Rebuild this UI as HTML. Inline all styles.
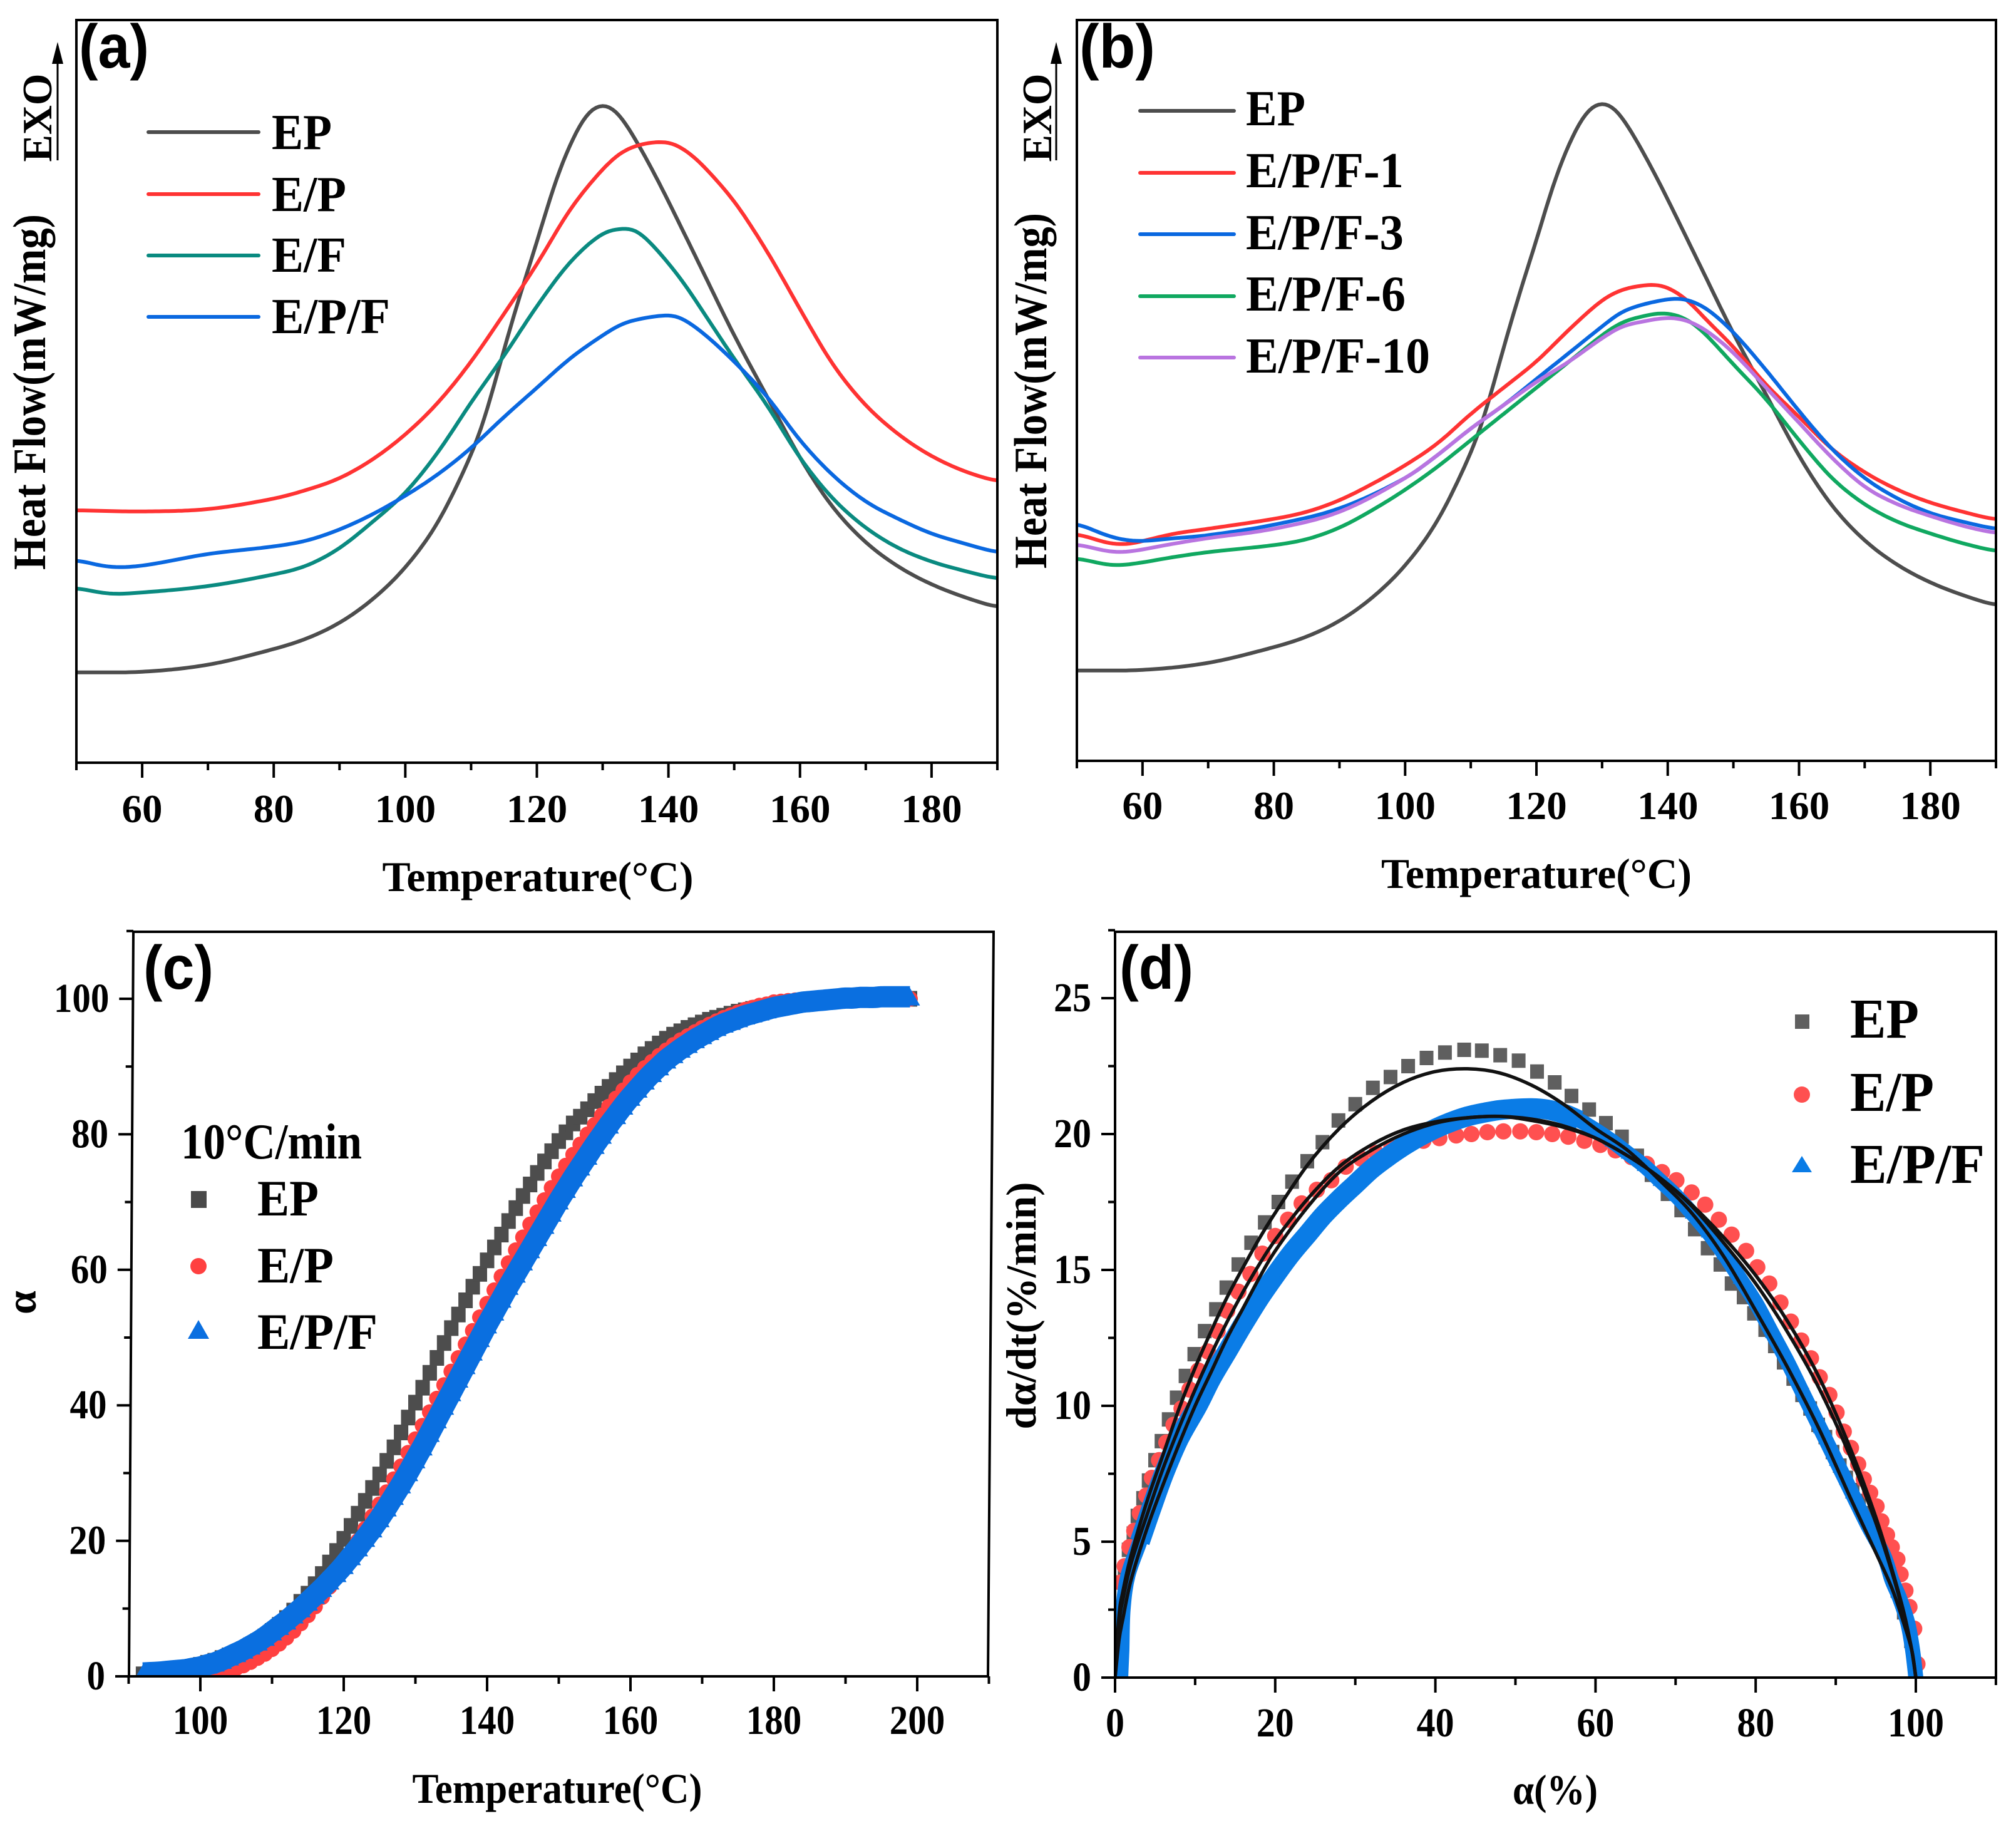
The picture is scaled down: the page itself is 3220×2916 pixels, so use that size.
<!DOCTYPE html>
<html lang="en">
<head>
<meta charset="utf-8">
<title>Curing behaviour of EP composites</title>
<style>
html,body{margin:0;padding:0;background:#fff;}
svg{display:block;}
text{font-family:"Liberation Serif",serif;font-weight:bold;fill:#000;}
.pl{font-family:"Liberation Sans",sans-serif;font-weight:bold;font-size:98px;}
.title{font-size:68px;}
.ytitle{font-size:74px;}
.leg-a{font-size:80px;}
.leg-c{font-size:82px;}
.leg-d{font-size:90px;}
</style>
</head>
<body>
<svg id="fig" xmlns="http://www.w3.org/2000/svg" width="3220" height="2916" viewBox="0 0 3220 2916">
<defs>
<clipPath id="clip-a"><rect x="122" y="32" width="1471" height="1186"/></clipPath>
<clipPath id="clip-b"><rect x="1720" y="32" width="1468" height="1183"/></clipPath>
<clipPath id="clip-c"><rect x="150" y="1400" width="1500" height="1277"/></clipPath>
<clipPath id="clip-d"><rect x="1781" y="1400" width="1407" height="1279"/></clipPath>
</defs>
<rect x="0" y="0" width="3220" height="2916" fill="#fff"/>

<g id="panel-a">
<g id="a-series" clip-path="url(#clip-a)"></g>
<rect x="122" y="32" width="1471" height="1186" fill="none" stroke="#000" stroke-width="4"/>
<g id="a-ticks"></g>
<text class="pl" x="126" y="108" textLength="112" lengthAdjust="spacingAndGlyphs">(a)</text>
<text class="title" x="859" y="1423" text-anchor="middle" textLength="497" lengthAdjust="spacingAndGlyphs">Temperature(°C)</text>
<text class="ytitle" transform="rotate(-90 72 626)" x="72" y="626" text-anchor="middle" textLength="568" lengthAdjust="spacingAndGlyphs">Heat Flow(mW/mg)</text>
<text class="ytitle" transform="rotate(-90 82 188)" x="82" y="188" text-anchor="middle" textLength="141" lengthAdjust="spacingAndGlyphs" style="font-size:67px">EXO</text>
<line x1="92" y1="256" x2="92" y2="100" stroke="#000" stroke-width="3"/>
<polygon points="92,67 83,102 101,102" fill="#000"/>
<g>
<line x1="237" y1="211" x2="413" y2="211" stroke="#4d4d4d" stroke-width="6" stroke-linecap="round"/>
<text class="leg-a" x="434" y="238" textLength="96" lengthAdjust="spacingAndGlyphs">EP</text>
<line x1="237" y1="310" x2="413" y2="310" stroke="#ff3333" stroke-width="6" stroke-linecap="round"/>
<text class="leg-a" x="434" y="337" textLength="119" lengthAdjust="spacingAndGlyphs">E/P</text>
<line x1="237" y1="408" x2="413" y2="408" stroke="#0a8a80" stroke-width="6" stroke-linecap="round"/>
<text class="leg-a" x="434" y="434" textLength="119" lengthAdjust="spacingAndGlyphs">E/F</text>
<line x1="237" y1="506" x2="413" y2="506" stroke="#0a68e0" stroke-width="6" stroke-linecap="round"/>
<text class="leg-a" x="434" y="532" textLength="189" lengthAdjust="spacingAndGlyphs">E/P/F</text>
</g>
</g>

<g id="panel-b">
<g id="b-series" clip-path="url(#clip-b)"></g>
<rect x="1720" y="32" width="1468" height="1183" fill="none" stroke="#000" stroke-width="4"/>
<g id="b-ticks"></g>
<text class="pl" x="1724" y="108" textLength="121" lengthAdjust="spacingAndGlyphs">(b)</text>
<text class="title" x="2454" y="1418" text-anchor="middle" textLength="496" lengthAdjust="spacingAndGlyphs">Temperature(°C)</text>
<text class="ytitle" transform="rotate(-90 1671 624)" x="1671" y="624" text-anchor="middle" textLength="568" lengthAdjust="spacingAndGlyphs">Heat Flow(mW/mg)</text>
<text class="ytitle" transform="rotate(-90 1679 188)" x="1679" y="188" text-anchor="middle" textLength="141" lengthAdjust="spacingAndGlyphs" style="font-size:67px">EXO</text>
<line x1="1687" y1="256" x2="1687" y2="100" stroke="#000" stroke-width="3"/>
<polygon points="1687,67 1678,102 1696,102" fill="#000"/>
<g>
<line x1="1821" y1="177" x2="1971" y2="177" stroke="#4d4d4d" stroke-width="6" stroke-linecap="round"/>
<text class="leg-a" x="1990" y="200" textLength="95" lengthAdjust="spacingAndGlyphs">EP</text>
<line x1="1821" y1="276" x2="1971" y2="276" stroke="#ff3333" stroke-width="6" stroke-linecap="round"/>
<text class="leg-a" x="1990" y="299" textLength="252" lengthAdjust="spacingAndGlyphs">E/P/F-1</text>
<line x1="1821" y1="374" x2="1971" y2="374" stroke="#0a68e0" stroke-width="6" stroke-linecap="round"/>
<text class="leg-a" x="1990" y="398" textLength="252" lengthAdjust="spacingAndGlyphs">E/P/F-3</text>
<line x1="1821" y1="473" x2="1971" y2="473" stroke="#10a860" stroke-width="6" stroke-linecap="round"/>
<text class="leg-a" x="1990" y="496" textLength="255" lengthAdjust="spacingAndGlyphs">E/P/F-6</text>
<line x1="1821" y1="571" x2="1971" y2="571" stroke="#b974e0" stroke-width="6" stroke-linecap="round"/>
<text class="leg-a" x="1990" y="595" textLength="294" lengthAdjust="spacingAndGlyphs">E/P/F-10</text>
</g>
</g>

<g id="panel-c">
<g id="c-series" clip-path="url(#clip-c)"></g>
<polygon points="213,1488 1587,1488 1578,2677 206,2677" fill="none" stroke="#000" stroke-width="4"/>
<g id="c-ticks"></g>
<text class="pl" x="229" y="1579" textLength="112" lengthAdjust="spacingAndGlyphs">(c)</text>
<text class="title" x="890" y="2879" text-anchor="middle" textLength="463" lengthAdjust="spacingAndGlyphs">Temperature(°C)</text>
<text class="title" transform="rotate(-90 57 2080)" x="57" y="2080" text-anchor="middle">α</text>
<text x="289" y="1850" font-size="80" textLength="289" lengthAdjust="spacingAndGlyphs">10°C/min</text>
<g>
<rect x="305" y="1902" width="25" height="27" fill="#4a4a4a"/>
<text class="leg-c" x="411" y="1941" textLength="98" lengthAdjust="spacingAndGlyphs">EP</text>
<circle cx="317" cy="2022" r="13" fill="#ff4040"/>
<text class="leg-c" x="411" y="2048" textLength="122" lengthAdjust="spacingAndGlyphs">E/P</text>
<polygon points="317,2108 334,2138 300,2138" fill="#0a6fe0"/>
<text class="leg-c" x="411" y="2154" textLength="192" lengthAdjust="spacingAndGlyphs">E/P/F</text>
</g>
</g>

<g id="panel-d">
<g id="d-series" clip-path="url(#clip-d)"></g>
<rect x="1781" y="1488" width="1407" height="1191" fill="none" stroke="#000" stroke-width="4"/>
<g id="d-ticks"></g>
<text class="pl" x="1788" y="1579" textLength="118" lengthAdjust="spacingAndGlyphs">(d)</text>
<text class="title" x="2484" y="2881" text-anchor="middle" textLength="136" lengthAdjust="spacingAndGlyphs">α(%)</text>
<text class="title" transform="rotate(-90 1654 2085)" x="1654" y="2085" text-anchor="middle" textLength="395" lengthAdjust="spacingAndGlyphs">dα/dt(%/min)</text>
<g>
<rect x="2867" y="1620" width="23" height="23" fill="#5f5f5f"/>
<text class="leg-d" x="2955" y="1657" textLength="110" lengthAdjust="spacingAndGlyphs">EP</text>
<circle cx="2878" cy="1748" r="13" fill="#ff5050"/>
<text class="leg-d" x="2955" y="1774" textLength="134" lengthAdjust="spacingAndGlyphs">E/P</text>
<polygon points="2878,1846 2894,1872 2862,1872" fill="#0a7ce6"/>
<text class="leg-d" x="2955" y="1889" textLength="215" lengthAdjust="spacingAndGlyphs">E/P/F</text>
</g>
</g>
</svg>

<script>
// ---------- Panel (a) data: temperature (C) and heat-flow signal (arbitrary units) ----------
const aTempEP = [50,60,70,80,85,90,95,100,105,110,112,114,116,117.6,120,123,126,128,130.2,132.3,135.3,138.2,140,145,150,155,160,165,170,175,180,185,190];
const aFlowEP = [155,156,168,195,213,240,280,335,413,528,588,668,748,808,893,1003,1083,1118,1129,1115,1063,1003,963,848,733,628,523,438,378,336,306,284,266];
const aTempEPo = [50,60,70,80,85,90,95,100,105,110,115,120,125,130,133,136,139,141,144,147,150,153,156,160,165,170,175,180,185,190];
const aFlowEPo = [433,431,435,453,468,488,520,563,618,688,770,855,948,1018,1048,1061,1065,1061,1038,1003,963,913,858,778,683,613,563,526,500,482];
const aTempEF = [50,55,60,70,80,85,90,95,100,105,110,115,120,125,130,133,135,138,142,145,150,155,160,165,170,175,180,185,190];
const aFlowEF = [300,290,292,303,323,338,368,413,463,533,618,698,783,858,908,916,914,883,828,778,693,613,523,453,403,368,345,329,315];
const aTempEPF = [50,55,60,70,80,85,90,95,100,105,110,115,120,125,130,133,136,139,141,143,146,150,155,160,165,170,175,180,185,190];
const aFlowEPF = [348,336,338,358,371,381,400,426,458,495,540,593,643,693,733,753,762,767,767,756,730,688,628,553,493,448,418,393,376,360];

// ---------- Panel (b) data ----------
const bTempEP = [50,60,70,80,85,90,95,100,105,110,112,114,116,117.6,120,123,126,128,130.2,132.3,135.3,138.2,140,145,150,155,160,165,170,175,180,185,190];
const bFlowEP = [155,156,168,195,213,240,280,335,413,528,588,668,748,808,893,1003,1083,1118,1129,1115,1063,1003,963,848,733,628,523,438,378,336,306,284,266];
const bTempF1 = [50,55,58,60,65,70,80,85,90,95,100,105,110,115,120,125,130,133,136,138,140,143,146,150,155,160,165,170,175,180,185,190];
const bFlowF1 = [390,373,372,377,390,398,415,427,447,475,507,545,595,640,685,740,790,808,815,817,812,790,755,710,645,590,535,495,465,443,427,413];
const bTempF3 = [50,55,59,65,70,80,90,100,105,110,115,120,125,130,133,137,141,143,146,150,155,160,165,170,175,180,185,190];
const bFlowF3 = [408,385,377,382,387,405,433,485,525,570,610,655,700,745,770,785,793,791,775,735,670,600,535,485,450,425,410,397];
const bTempF6 = [50,55,58,65,70,80,85,90,95,100,105,110,115,120,125,130,133,136,139,142,145,150,155,160,165,170,175,180,185,190];
const bFlowF6 = [348,336,337,350,358,370,380,400,430,465,505,550,595,640,685,730,752,762,768,762,740,680,620,550,485,440,410,390,373,359];
const bTempF10 = [50,55,58,65,70,80,90,100,105,110,115,120,125,130,133,136,140,143,146,150,155,160,165,170,175,180,185,190];
const bFlowF10 = [372,359,359,373,382,398,427,485,525,570,610,650,685,725,745,753,760,755,737,700,640,580,520,470,440,420,403,390];

// ---------- Panel (c) data: conversion vs temperature ----------
const cTemp = [92,93,94,95,96,97,98,99,100,101,102,103,104,105,106,107,108,109,110,111,112,113,114,115,116,117,118,119,120,121,122,123,124,125,126,127,128,129,130,131,132,133,134,135,136,137,138,139,140,141,142,143,144,145,146,147,148,149,150,151,152,153,154,155,156,157,158,159,160,161,162,163,164,165,166,167,168,169,170,171,172,173,174,175,176,177,178,179,180,181,182,183,184,185,186,187,188,189,190,191,192,193,194,195,196,197,198,199];
const cAlphaEP = [0.3,0.4,0.5,0.7,0.8,1,1.2,1.4,1.7,2,2.3,2.7,3.1,3.5,4,4.6,5.2,5.9,6.7,7.6,8.6,9.7,11,12.2,13.6,15.1,16.8,18.5,20.3,22.2,24,25.9,27.8,29.8,31.8,33.8,36,38.2,40.4,42.6,44.8,47,49.2,51.4,53.4,55.5,57.5,59.4,61.4,63.3,65.2,67.2,69.1,70.9,72.6,74.3,76,77.5,79,80.3,81.6,82.6,83.7,84.9,86,87,88,89,90,90.9,91.8,92.6,93.4,94.1,94.7,95.2,95.7,96.1,96.5,96.9,97.2,97.5,97.8,98.1,98.3,98.5,98.7,98.9,99.1,99.2,99.3,99.4,99.5,99.6,99.7,99.7,99.8,99.8,99.9,99.9,99.9,100,100,100,100,100,100,100];
const cAlphaEPo = [0,0,0,0,0,0,0,0,0,0,0.2,0.5,0.8,1.2,1.6,2.1,2.7,3.3,4,4.8,5.7,6.7,7.8,9,10.3,11.7,13.2,14.8,16.5,18.2,20,21.8,23.6,25.4,27.2,29.1,31,33,35,37,39,41,43,45,47,49,51,53,55,57,59,61,62.9,64.8,66.7,68.5,70.3,72.1,73.8,75.4,77,78.5,80,81.4,82.8,84.1,85.3,86.5,87.7,88.8,89.8,90.7,91.6,92.4,93.2,93.9,94.5,95.1,95.7,96.2,96.7,97.2,97.6,98,98.4,98.7,99,99.2,99.5,99.6,99.7,99.8,99.9,99.9,100,100,100,100,100,100,100,100,100,100,100,100,100,100];
const cAlphaEPF = [0.5,0.55,0.6,0.7,0.8,0.9,1,1.2,1.4,1.7,2,2.4,2.9,3.4,3.9,4.5,5.1,5.8,6.6,7.4,8.2,9.1,10,11,12,13,14.1,15.2,16.4,17.7,19,20.4,21.8,23.3,24.9,26.6,28.3,30.1,32,33.9,35.9,37.9,39.9,41.9,43.9,45.9,47.9,49.9,51.9,53.8,55.7,57.6,59.4,61.2,63,64.8,66.6,68.4,70.2,71.9,73.6,75.2,76.8,78.4,79.9,81.4,82.8,84.2,85.5,86.7,87.9,89,90,91,91.8,92.6,93.3,94,94.6,95.2,95.8,96.3,96.7,97.1,97.5,97.8,98.1,98.4,98.7,98.9,99.1,99.3,99.5,99.6,99.7,99.8,99.9,100,100.1,100.1,100.2,100.2,100.2,100.3,100.3,100.3,100.3,100.3];

// ---------- Panel (d) data: rate vs conversion ----------
const dAlphaEP = [0.2,0.4,0.8,1.2,1.7,2.3,2.8,3.5,4.2,5,5.8,6.7,7.7,8.8,9.9,11.2,12.6,13.9,15.4,17,18.7,20.4,22.1,24,25.9,27.9,30,32.2,34.4,36.6,38.9,41.2,43.6,45.8,48.1,50.4,52.7,54.9,57,59.2,61.3,63.3,65.2,67,69,70.7,72.4,74,75.6,77,78.5,79.8,81.2,82.4,83.5,84.7,85.8,86.8,87.8,88.7,89.6,90.5,91.3,92.1,92.9,93.7,94.5,95.3,96.1,96.9,97.7,98.5,99.4,99.9];
const dRateEP = [1,2.4,3.5,4,4.7,5.3,5.95,6.6,7.25,8,8.7,9.5,10.3,11.1,11.9,12.75,13.55,14.35,15.2,16,16.75,17.5,18.25,19,19.7,20.5,21.1,21.7,22.1,22.5,22.8,23,23.1,23.07,22.9,22.7,22.3,21.9,21.4,20.9,20.4,19.9,19.2,18.5,17.8,17.2,16.5,15.8,15.2,14.5,14,13.4,12.8,12.2,11.6,11,10.4,9.9,9.3,8.85,8.3,7.8,7.35,6.9,6.5,6.05,5.6,5.1,4.55,3.9,3.2,2.4,1.35,0.2];
const dAlphaEPo = [0.3,0.7,1.2,1.8,2.4,3.1,3.9,4.6,5.5,6.4,7.3,8.3,9.3,10.4,11.6,12.8,14,15.4,16.9,18.4,20,21.6,23.3,25.2,27,28.8,30.7,32.6,34.5,36.5,38.5,40.5,42.6,44.5,46.5,48.5,50.6,52.6,54.6,56.6,58.6,60.6,62.5,64.5,66.4,68.3,70.1,72,73.7,75.4,77,78.8,80.2,81.7,83.1,84.4,85.7,86.9,88,89.2,90.1,91,91.9,92.8,93.5,94.3,95.1,95.7,96.4,97,97.7,98.1,98.7,99.2,99.8,100.2];
const dRateEPo = [2.4,3.5,4.1,4.8,5.4,6.05,6.7,7.35,8,8.65,9.3,9.9,10.6,11.3,12,12.75,13.5,14.2,14.85,15.6,16.25,16.85,17.45,17.95,18.3,18.8,19.1,19.3,19.5,19.7,19.75,19.85,19.95,20,20.07,20.1,20.1,20.07,20,19.9,19.75,19.6,19.4,19.15,18.9,18.6,18.3,17.85,17.4,16.85,16.3,15.7,15.1,14.5,13.8,13.1,12.4,11.75,11.05,10.4,9.75,9.05,8.45,7.85,7.3,6.8,6.3,5.75,5.25,4.8,4.35,3.8,3.2,2.6,1.8,0.5];
const dAlphaEPF = [0.7,0.85,1,1.6,3.1,4.5,6.1,8,10.3,12,14,16,18,20,22,24,26,28,30,32,34,36,38,40,42,44,46,48,50,52,54,56,58,60,62,64,66,68,70,72,74,76,78,80,82,84,86,88,90,92,94,96,97,98,99,99.6,100];
const dRateEPF = [0,1,2.5,3.75,5,6.2,7.5,8.8,10,11,12,13,13.95,14.8,15.6,16.3,17,17.6,18.15,18.7,19.15,19.55,19.9,20.2,20.45,20.65,20.78,20.88,20.93,20.95,20.9,20.75,20.5,20.15,19.75,19.3,18.85,18.3,17.75,17.1,16.4,15.6,14.7,13.8,12.7,11.6,10.4,9.2,8,6.8,5.6,4.5,3.6,2.9,2,1,0];
const dFitAlpha = [0,0.5,1,2,4,6,8,10,12,14,16,18,20,24,28,32,36,40,44,48,52,56,60,64,68,72,76,80,84,88,92,95,97,98.5,99.5,100];
const dFitEP = [0,2.3,3.2,4.5,6.5,8.2,9.9,11.4,12.75,14,15.1,16.15,17.1,18.85,20.2,21.2,21.9,22.3,22.4,22.25,21.8,21.1,20.2,19.4,18.3,17.1,15.5,13.5,11.4,9.1,6.5,4.6,3.3,2,1,0];
const dFitEPo = [0,2,2.9,4.2,6,7.7,9.2,10.6,11.9,13.1,14.2,15.2,16.1,17.6,18.8,19.6,20.15,20.45,20.6,20.65,20.5,20.25,19.85,19.2,18.4,17.4,16.2,14.8,13.1,11,8.3,5.9,4,2.4,1,0];
const dFitEPF = [0,1.4,2.2,3.6,5.5,7.1,8.6,10,11.25,12.5,13.6,14.7,15.7,17.3,18.6,19.4,20,20.4,20.6,20.65,20.55,20.3,19.85,19.2,18.4,17.35,16,14.5,12.7,10.6,8,5.7,3.9,2.3,1,0];

// ---------- Tick labels ----------
const abXTicks = [60,80,100,120,140,160,180];
const abXMinor = [50,70,90,110,130,150,170,190];
const cXTicks = [100,120,140,160,180,200];
const cXMinor = [90,110,130,150,170,190,210];
const cYTicks = [0,20,40,60,80,100];
const cYMinor = [10,30,50,70,90,110];
const dXTicks = [0,20,40,60,80,100];
const dXMinor = [10,30,50,70,90,110];
const dYTicks = [0,5,10,15,20,25];
const dYMinor = [2.5,7.5,12.5,17.5,22.5,27.5];

// ---------- Axis functions ----------
const SVGNS = 'http://www.w3.org/2000/svg';
const axA = t => 122 + (t - 50) * 10.507;
const ayA = v => 1218 - v * 0.931;
const axB = t => 1720 + (t - 50) * 10.486;
const ayB = v => 1215 - v * 0.931;
const axC = t => 320 + (t - 100) * 11.45;
const ayC = v => 2677 - v * 10.82;
const axD = a => 1781 + a * 12.79;
const ayD = r => 2679 - r * 43.4;
const cLeft = v => 206 + v * (7 / 110);

function catmull(xs, ys) {
  let d = 'M' + xs[0].toFixed(1) + ' ' + ys[0].toFixed(1);
  for (let i = 0; i < xs.length - 1; i++) {
    const p = Math.max(i - 1, 0), n = Math.min(i + 2, xs.length - 1);
    const c1x = xs[i] + (xs[i + 1] - xs[p]) / 6, c1y = ys[i] + (ys[i + 1] - ys[p]) / 6;
    const c2x = xs[i + 1] - (xs[n] - xs[i]) / 6, c2y = ys[i + 1] - (ys[n] - ys[i]) / 6;
    d += 'C' + c1x.toFixed(1) + ' ' + c1y.toFixed(1) + ' ' + c2x.toFixed(1) + ' ' + c2y.toFixed(1) + ' ' + xs[i + 1].toFixed(1) + ' ' + ys[i + 1].toFixed(1);
  }
  return d;
}

// Hermite trace through the read points with a light Gaussian softening, for the DSC curves
function softTrace(xs, ys, fx, fy) {
  const n = xs.length;
  const slope = i => {
    const a = Math.max(i - 1, 0), b = Math.min(i + 1, n - 1);
    return (ys[b] - ys[a]) / (xs[b] - xs[a]);
  };
  const sx = [], sy = [];
  let j = 0;
  for (let t = xs[0]; t <= xs[n - 1] + 1e-6; t += 0.5) {
    while (j < n - 2 && xs[j + 1] < t) j++;
    const h = xs[j + 1] - xs[j], u = (t - xs[j]) / h;
    const u2 = u * u, u3 = u2 * u;
    sx.push(t);
    sy.push((2 * u3 - 3 * u2 + 1) * ys[j] + (u3 - 2 * u2 + u) * h * slope(j) + (-2 * u3 + 3 * u2) * ys[j + 1] + (u3 - u2) * h * slope(j + 1));
  }
  const sigma = 1;
  let d = '';
  sx.forEach((t, i) => {
    let w = 0, s = 0;
    for (let k = Math.max(0, i - 7); k <= Math.min(sx.length - 1, i + 7); k++) {
      const g = Math.exp(-Math.pow(sx[k] - t, 2) / (2 * sigma * sigma));
      w += g;
      s += g * sy[k];
    }
    d += (i ? 'L' : 'M') + fx(t).toFixed(1) + ' ' + fy(s / w).toFixed(1);
  });
  return d;
}

function drawPath(parentId, name, d, color, width) {
  const p = document.createElementNS(SVGNS, 'path');
  
  
  p.setAttribute('d', d);
  p.setAttribute('fill', 'none');
  p.setAttribute('stroke', color);
  p.setAttribute('stroke-width', width);
  p.setAttribute('stroke-linejoin', 'round');
  document.getElementById(parentId).appendChild(p);
}

function drawSoft(parentId, name, xs, ys, fx, fy, color, width) {
  drawPath(parentId, name, softTrace(xs, ys, fx, fy), color, width);
}

function drawSpline(parentId, name, xs, ys, fx, fy, color, width) {
  drawPath(parentId, name, catmull(xs.map(fx), ys.map(fy)), color, width);
}

function tickLine(parentId, x1, y1, x2, y2) {
  const l = document.createElementNS(SVGNS, 'line');
  
  
  l.setAttribute('x1', x1);
  l.setAttribute('y1', y1);
  l.setAttribute('x2', x2);
  l.setAttribute('y2', y2);
  l.setAttribute('stroke', '#000');
  l.setAttribute('stroke-width', 4);
  document.getElementById(parentId).appendChild(l);
}

function tickText(parentId, x, y, str, anchor, size, widthFont) {
  const t = document.createElementNS(SVGNS, 'text');
  
  
  t.setAttribute('x', x);
  t.setAttribute('y', y);
  t.setAttribute('text-anchor', anchor);
  t.setAttribute('font-size', size);
  t.setAttribute('textLength', str.length * 0.5 * widthFont);
  t.setAttribute('lengthAdjust', 'spacingAndGlyphs');
  t.textContent = str;
  document.getElementById(parentId).appendChild(t);
}

function xAxis(parentId, majors, minors, fx, base, labelY, size, widthFont) {
  majors.forEach(v => {
    tickLine(parentId, fx(v), base, fx(v), base + 24);
    tickText(parentId, fx(v), labelY, String(v), 'middle', size, widthFont);
  });
  minors.forEach(v => tickLine(parentId, fx(v), base, fx(v), base + 12));
}

function yAxis(parentId, majors, minors, fy, edge, size, widthFont) {
  majors.forEach(v => {
    tickLine(parentId, edge(v), fy(v), edge(v) - 22, fy(v));
    tickText(parentId, edge(v) - 38, fy(v) + 21, String(v), 'end', size, widthFont);
  });
  minors.forEach(v => tickLine(parentId, edge(v), fy(v), edge(v) - 11, fy(v)));
}

function square(parentId, name, cx, cy, w, h, color) {
  const m = document.createElementNS(SVGNS, 'rect');
  
  
  m.setAttribute('x', (cx - w / 2).toFixed(1));
  m.setAttribute('y', (cy - h / 2).toFixed(1));
  m.setAttribute('width', w);
  m.setAttribute('height', h);
  m.setAttribute('fill', color);
  document.getElementById(parentId).appendChild(m);
}

function circle(parentId, name, cx, cy, r, color) {
  const m = document.createElementNS(SVGNS, 'circle');
  
  
  m.setAttribute('cx', cx.toFixed(1));
  m.setAttribute('cy', cy.toFixed(1));
  m.setAttribute('r', r);
  m.setAttribute('fill', color);
  document.getElementById(parentId).appendChild(m);
}

function triangle(parentId, name, cx, cy, w, h, color) {
  const m = document.createElementNS(SVGNS, 'polygon');
  
  
  m.setAttribute('points', cx.toFixed(1) + ',' + (cy - h / 2).toFixed(1) + ' ' + (cx + w / 2).toFixed(1) + ',' + (cy + h / 2).toFixed(1) + ' ' + (cx - w / 2).toFixed(1) + ',' + (cy + h / 2).toFixed(1));
  m.setAttribute('fill', color);
  document.getElementById(parentId).appendChild(m);
}

// ---------- Panel (a) ----------
drawSoft('a-series', 'a-curve-ep', aTempEP, aFlowEP, axA, ayA, '#4d4d4d', 6);
drawSoft('a-series', 'a-curve-e-p', aTempEPo, aFlowEPo, axA, ayA, '#ff3333', 6);
drawSoft('a-series', 'a-curve-e-f', aTempEF, aFlowEF, axA, ayA, '#0a8a80', 6);
drawSoft('a-series', 'a-curve-e-p-f', aTempEPF, aFlowEPF, axA, ayA, '#0a68e0', 6);
xAxis('a-ticks', abXTicks, abXMinor, axA, 1218, 1313, 63, 65);

// ---------- Panel (b) ----------
drawSoft('b-series', 'b-curve-ep', bTempEP, bFlowEP, axB, ayB, '#4d4d4d', 6);
drawSoft('b-series', 'b-curve-f1', bTempF1, bFlowF1, axB, ayB, '#ff3333', 6);
drawSoft('b-series', 'b-curve-f3', bTempF3, bFlowF3, axB, ayB, '#0a68e0', 6);
drawSoft('b-series', 'b-curve-f6', bTempF6, bFlowF6, axB, ayB, '#10a860', 6);
drawSoft('b-series', 'b-curve-f10', bTempF10, bFlowF10, axB, ayB, '#b974e0', 6);
xAxis('b-ticks', abXTicks, abXMinor, axB, 1215, 1308, 63, 65);

// ---------- Panel (c) ----------
cTemp.forEach((t, i) => square('c-series', 'c-point-ep', axC(t), ayC(cAlphaEP[i]), 23, 25, '#4d4d4d'));
cTemp.forEach((t, i) => { if (cAlphaEPo[i] > 0) circle('c-series', 'c-point-e-p', axC(t), ayC(cAlphaEPo[i]), 12.5, '#ff4040'); });
cTemp.forEach((t, i) => triangle('c-series', 'c-point-e-p-f', axC(t), ayC(cAlphaEPF[i]), 32, 28, '#0a6fe0'));
drawSpline('c-series', 'c-band-e-p-f', cTemp, cAlphaEPF, axC, ayC, '#0a6fe0', 34);

// ---------- Panel (d) ----------
dAlphaEP.forEach((a, i) => square('d-series', 'd-point-ep', axD(a), ayD(dRateEP[i]), 22, 23, '#5f5f5f'));
dAlphaEPo.forEach((a, i) => circle('d-series', 'd-point-e-p', axD(a), ayD(dRateEPo[i]), 13, '#ff5050'));
drawSpline('d-series', 'd-band-e-p-f', dAlphaEPF, dRateEPF, axD, ayD, '#0a7ce6', 24);
const dRising = dAlphaEPF.filter(a => a >= 3.1 && a <= 58).length;
const dStart = dAlphaEPF.findIndex(a => a >= 3.1);
drawSpline('d-series', 'd-band-rising-e-p-f', dAlphaEPF.slice(dStart, dStart + dRising), dRateEPF.slice(dStart, dStart + dRising), axD, ayD, '#0a7ce6', 32);
dAlphaEPF.forEach((a, i) => { if (dRateEPF[i] > 6) triangle('d-series', 'd-point-e-p-f', axD(a), ayD(dRateEPF[i]), 22, 18, '#0a7ce6'); });
drawSpline('d-series', 'd-fit-ep', dFitAlpha, dFitEP, axD, ayD, '#111', 5.5);
drawSpline('d-series', 'd-fit-e-p', dFitAlpha, dFitEPo, axD, ayD, '#111', 5.5);
drawSpline('d-series', 'd-fit-e-p-f', dFitAlpha, dFitEPF, axD, ayD, '#111', 5.5);

xAxis('c-ticks', cXTicks, cXMinor, axC, 2677, 2769, 66, 59);
yAxis('c-ticks', cYTicks, cYMinor, ayC, cLeft, 66, 59);
xAxis('d-ticks', dXTicks, dXMinor, axD, 2679, 2773, 66, 60);
yAxis('d-ticks', dYTicks, dYMinor, ayD, () => 1781, 66, 60);
</script>
</body>
</html>
